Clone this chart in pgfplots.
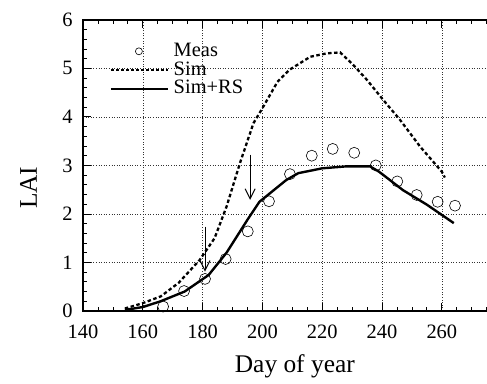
\documentclass[border=0pt]{standalone}
\usepackage{fontspec}
\setmainfont{Liberation Serif}
\usepackage{pgfplots}
\pgfplotsset{compat=1.18}
\usetikzlibrary{arrows.meta}
\begin{document}
\begin{tikzpicture}
\begin{axis}[
  scale only axis, width=418.6bp, height=291bp,
  xmin=140, xmax=280, ymin=0, ymax=6,
  xtick={140,160,...,280}, ytick={0,1,...,6},
  minor x tick num=3, minor y tick num=4,
  tick align=inside, major tick length=8bp, minor tick length=4bp,
  xtick pos=both, ytick pos=both,
  grid=major,
  major grid style={black!80, line width=0.5pt, dash pattern=on 1pt off 1.6pt},
  axis line style={line width=1.3pt},
  every tick/.style={black, line width=0.8pt},
  /pgf/number format/assume math mode=true,
  /pgf/number format/1000 sep={},
  tick label style={font=\fontsize{20.5}{22}\selectfont},
  xticklabel style={yshift=-10bp},
  yticklabel style={xshift=-7bp},
  xlabel={Day of year}, ylabel={LAI},
  label style={font=\fontsize{25.5}{28}\selectfont},
  xlabel style={at={(axis description cs:0.506,-0.213)}, anchor=base},
  ylabel style={at={(axis description cs:-0.110,0.423)}, anchor=base},
  legend style={draw=none, fill=none, at={(axis cs:149.0,5.55)}, anchor=north west,
    font=\fontsize{20.5}{22}\selectfont, row sep=0pt, inner sep=0pt,
    nodes={inner sep=0pt, text height=14.3bp, text depth=4.5bp},
    column sep=0pt, legend cell align=left,
    /tikz/every odd column/.append style={column sep=5bp}},
  clip=false,
]
\addplot[only marks, mark=o, mark size=5.5bp, mark options={line width=0.6pt, black},
  legend image code/.code={\path[draw=none] (0bp,0bp) -- (57bp,0bp);
    \path[draw=none, mark=o, mark size=3.5bp, mark options={draw=black, line width=0.6pt}] plot coordinates {(28bp,0bp)};}]
  coordinates {
  (166.8,0.09) (173.8,0.41) (180.8,0.66) (187.7,1.07) (195.1,1.64) (202.2,2.26)
  (209.2,2.82) (216.5,3.20) (223.5,3.34) (230.7,3.26) (237.9,3.00) (245.1,2.67)
  (251.6,2.39) (258.6,2.25) (264.4,2.17)};
\addlegendentry{Meas}
\addplot[black, line width=2.3pt, dash pattern=on 3.5pt off 2.5pt,
  legend image code/.code={\draw[black, line width=1.6pt, dash pattern=on 3pt off 2pt] (0bp,0bp) -- (57bp,0bp);}]
  coordinates {
  (154,0.05) (160,0.16) (166,0.30) (172,0.58) (179,1.05) (184,1.50) (188,2.15)
  (192.5,3.05) (197,3.87) (200,4.18) (205,4.72) (209,4.97) (216,5.24) (221.5,5.31)
  (226,5.33) (230.4,5.07) (235,4.76) (240.4,4.35) (246,3.94) (252.7,3.39)
  (260,2.87) (261,2.75)};
\addlegendentry{Sim}
\addplot[black, line width=2.4pt,
  legend image code/.code={\draw[black, line width=1.6pt] (0bp,0bp) -- (57bp,0bp);}]
  coordinates {
  (154,0.02) (160,0.08) (166,0.20) (174,0.40) (182,0.74) (188,1.20) (195,1.88)
  (199,2.25) (205,2.55) (208,2.70) (212,2.84) (220,2.94) (228,2.98) (236,2.98)
  (239,2.87) (247,2.49) (255,2.19) (264,1.81)};
\addlegendentry{Sim+RS}
\draw[line width=1pt, -{Straight Barb[length=10bp, width=10bp, line width=1pt]}]
  (axis cs:180.8,1.74) -- (axis cs:180.8,0.81);
\draw[line width=1pt, -{Straight Barb[length=10bp, width=10bp, line width=1pt]}]
  (axis cs:195.9,3.22) -- (axis cs:195.9,2.29);
\coordinate (bbl) at (axis cs:112.24,-1.505);
\coordinate (btr) at (axis cs:275.1,6.41);
\end{axis}
\pgfresetboundingbox
\useasboundingbox (bbl) rectangle (btr);
\end{tikzpicture}
\end{document}
